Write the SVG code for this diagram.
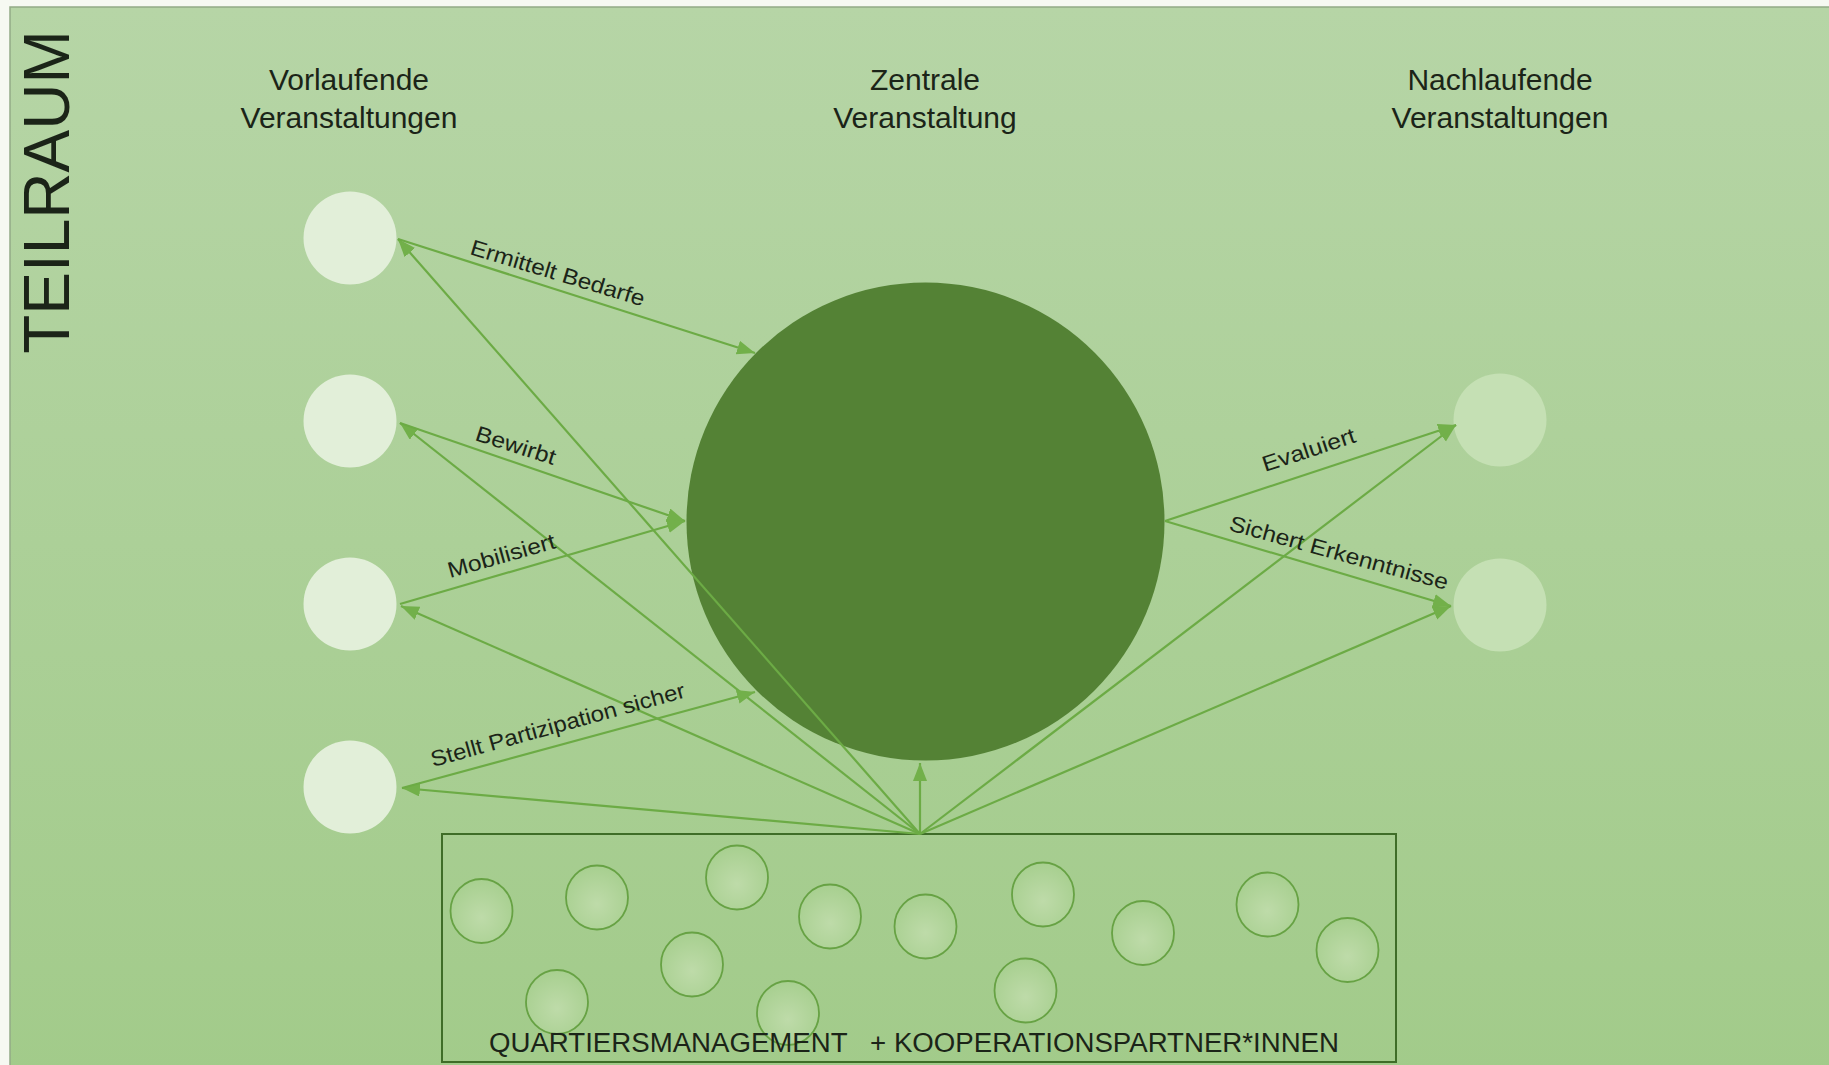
<svg xmlns="http://www.w3.org/2000/svg" width="1829" height="1065" viewBox="0 0 1829 1065">
  <defs>
    <linearGradient id="bg" x1="0" y1="0" x2="0" y2="1">
      <stop offset="0" stop-color="#b6d5a6"/>
      <stop offset="1" stop-color="#a2cb8a"/>
    </linearGradient>
    <radialGradient id="small" cx="0.5" cy="0.6" r="0.6">
      <stop offset="0" stop-color="#bedba9"/>
      <stop offset="1" stop-color="#a7cf8f"/>
    </radialGradient>
    <marker id="arr" markerUnits="userSpaceOnUse" markerWidth="20" markerHeight="16" refX="18" refY="7" orient="auto">
      <path d="M0,0 L18,7 L0,14 z" fill="#72b04a"/>
    </marker>
    <style>
      .hdr { font-family: "Liberation Sans", Arial, sans-serif; font-size: 30px; fill: #1b2418; text-anchor: middle; }
      .lbl { font-family: "Liberation Sans", Arial, sans-serif; font-size: 22px; fill: #1b2418; }
      .con { stroke: #6cab45; stroke-width: 2.2; fill: none; marker-end: url(#arr); }
      .pre { fill: #e2efd9; }
      .post { fill: #c5e0b4; }
      .partner { fill: url(#small); stroke: #67a244; stroke-width: 1.8; }
    </style>
  </defs>

  <rect x="0" y="0" width="1829" height="1065" fill="#f6f9f2"/>
  <rect id="panel" x="10" y="7" width="1830" height="1070" fill="url(#bg)" stroke="#93ab86" stroke-width="1.5"/>

  <text id="title" class="hdr" style="font-size:64px" transform="translate(69,192) rotate(-90)">TEILRAUM</text>

  <g id="header-vor">
    <text class="hdr" x="349" y="90">Vorlaufende</text>
    <text class="hdr" x="349" y="128">Veranstaltungen</text>
  </g>
  <g id="header-zentral">
    <text class="hdr" x="925" y="90">Zentrale</text>
    <text class="hdr" x="925" y="128">Veranstaltung</text>
  </g>
  <g id="header-nach">
    <text class="hdr" x="1500" y="90">Nachlaufende</text>
    <text class="hdr" x="1500" y="128">Veranstaltungen</text>
  </g>

  <g id="central"><circle cx="925.5" cy="521.5" r="239" fill="#548235"/></g>

  <g id="pre1"><circle class="pre" cx="350" cy="238" r="46.5"/></g>
  <g id="pre2"><circle class="pre" cx="350" cy="421" r="46.5"/></g>
  <g id="pre3"><circle class="pre" cx="350" cy="604" r="46.5"/></g>
  <g id="pre4"><circle class="pre" cx="350" cy="787" r="46.5"/></g>

  <g id="post1"><circle class="post" cx="1500" cy="420" r="46.5"/></g>
  <g id="post2"><circle class="post" cx="1500" cy="605" r="46.5"/></g>

  <g id="partners">
    <rect x="442" y="834" width="954" height="228" fill="none" stroke="#3f6d28" stroke-width="2"/>
    <ellipse class="partner" cx="481.5" cy="911" rx="31" ry="32"/>
    <ellipse class="partner" cx="597" cy="897.5" rx="31" ry="32"/>
    <ellipse class="partner" cx="737" cy="877.5" rx="31" ry="32"/>
    <ellipse class="partner" cx="692" cy="964.5" rx="31" ry="32"/>
    <ellipse class="partner" cx="557" cy="1002" rx="31" ry="32"/>
    <ellipse class="partner" cx="788" cy="1013" rx="31" ry="32"/>
    <ellipse class="partner" cx="830" cy="916.5" rx="31" ry="32"/>
    <ellipse class="partner" cx="925.5" cy="926.5" rx="31" ry="32"/>
    <ellipse class="partner" cx="1043" cy="894.5" rx="31" ry="32"/>
    <ellipse class="partner" cx="1025.5" cy="990.5" rx="31" ry="32"/>
    <ellipse class="partner" cx="1143" cy="933" rx="31" ry="32"/>
    <ellipse class="partner" cx="1267.5" cy="904.5" rx="31" ry="32"/>
    <ellipse class="partner" cx="1347.5" cy="950" rx="31" ry="32"/>
    <text class="hdr" style="font-size:27px; white-space:pre" xml:space="preserve" x="914" y="1052" textLength="850" lengthAdjust="spacingAndGlyphs">QUARTIERSMANAGEMENT   + KOOPERATIONSPARTNER*INNEN</text>
  </g>

  <g id="connectors">
    <line class="con" x1="920" y1="834" x2="398" y2="239"/>
    <line class="con" x1="920" y1="834" x2="400" y2="423"/>
    <line class="con" x1="920" y1="834" x2="401" y2="606"/>
    <line class="con" x1="920" y1="834" x2="402" y2="788"/>
    <line class="con" x1="920" y1="834" x2="920" y2="763"/>
    <line class="con" x1="920" y1="834" x2="1456" y2="425"/>
    <line class="con" x1="920" y1="834" x2="1451" y2="606"/>
    <line class="con" x1="398" y1="239" x2="755" y2="353"/>
    <line class="con" x1="400" y1="423" x2="685" y2="521"/>
    <line class="con" x1="400" y1="604" x2="685" y2="521"/>
    <line class="con" x1="402" y1="788" x2="755" y2="692"/>
    <line class="con" x1="1165" y1="521" x2="1456" y2="425"/>
    <line class="con" x1="1165" y1="521" x2="1451" y2="606"/>
  </g>

  <g id="labels">
    <text class="lbl" transform="translate(469,254) rotate(16.8)" textLength="181" lengthAdjust="spacingAndGlyphs">Ermittelt Bedarfe</text>
    <text class="lbl" transform="translate(474,440) rotate(17.6)" textLength="83" lengthAdjust="spacingAndGlyphs">Bewirbt</text>
    <text class="lbl" transform="translate(450,578) rotate(-15.7)" textLength="111" lengthAdjust="spacingAndGlyphs">Mobilisiert</text>
    <text class="lbl" transform="translate(433,767) rotate(-15.4)" textLength="263" lengthAdjust="spacingAndGlyphs">Stellt Partizipation sicher</text>
    <text class="lbl" transform="translate(1265,472) rotate(-18.1)" textLength="97" lengthAdjust="spacingAndGlyphs">Evaluiert</text>
    <text class="lbl" transform="translate(1228,530) rotate(15.4)" textLength="226" lengthAdjust="spacingAndGlyphs">Sichert Erkenntnisse</text>
  </g>
</svg>
